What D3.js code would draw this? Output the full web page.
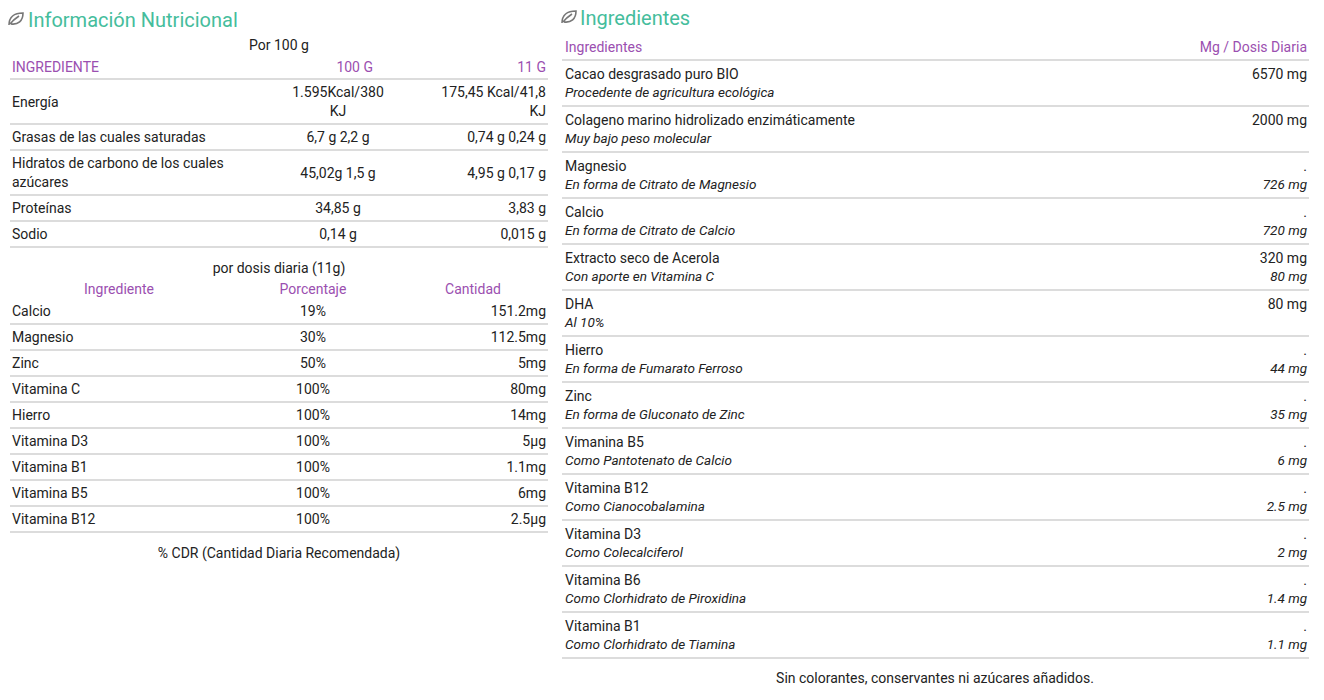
<!DOCTYPE html><html><head><meta charset="utf-8"><script src="https://cdn.jsdelivr.net/npm/d3@7"></script>
<style>body{margin:0;background:#fff}svg{font-family:Roboto,sans-serif}</style></head><body><svg id="c" width="1324" height="700"></svg>
<script>
const nutriNames=["Energía","Grasas de las cuales saturadas","Hidratos de carbono de los cuales|azúcares","Proteínas","Sodio"];
const nutri100=["1.595Kcal/380|KJ","6,7 g 2,2 g","45,02g 1,5 g","34,85 g","0,14  g"];
const nutri11=["175,45 Kcal/41,8|KJ","0,74  g 0,24  g","4,95 g 0,17 g","3,83  g","0,015 g"];
const doseNames=["Calcio","Magnesio","Zinc","Vitamina C","Hierro","Vitamina D3","Vitamina B1","Vitamina B5","Vitamina B12"];
const dosePct=["19%","30%","50%","100%","100%","100%","100%","100%","100%"];
const doseAmt=["151.2mg","112.5mg","5mg","80mg","14mg","5µg","1.1mg","6mg","2.5µg"];
const ingNames=["Cacao desgrasado puro BIO","Colageno marino hidrolizado enzimáticamente","Magnesio","Calcio","Extracto seco de Acerola","DHA","Hierro","Zinc","Vimanina B5","Vitamina B12","Vitamina D3","Vitamina B6","Vitamina B1"];
const ingSubs=["Procedente de agricultura ecológica","Muy bajo peso molecular","En forma de Citrato de Magnesio","En forma de Citrato de Calcio"," Con aporte en Vitamina C","Al 10%","En forma de Fumarato Ferroso","En forma de Gluconato de Zinc","Como Pantotenato de Calcio","Como Cianocobalamina","Como Colecalciferol","Como Clorhidrato de Piroxidina","Como Clorhidrato de Tiamina"];
const ingMg=["6570 mg","2000 mg",".",".","320 mg","80 mg",".",".",".",".",".",".","."];
const ingSubMg=["","","726 mg","720 mg","80 mg","","44 mg","35 mg","6 mg","2.5 mg","2 mg","1.4 mg","1.1 mg"];
const svg=d3.select("#c");
const TEAL="#45bd9c",PUR="#9b4fb0",TXT="#222",LINE="#d0d0d0";
function t(x,y,s,o={}){return svg.append("text").attr("x",x).attr("y",y).text(s).attr("font-size",o.fs||14).attr("fill",o.c||TXT).attr("text-anchor",o.a||"start").attr("font-style",o.i?"italic":null);}
function hl(x1,x2,y){svg.append("line").attr("x1",x1).attr("x2",x2).attr("y1",y).attr("y2",y).attr("stroke",LINE).attr("stroke-width",1.3);}
function leaf(x,y){svg.append("path").attr("transform",`translate(${x},${y})`).attr("d","M1,13 C1,5 6,1 15,1 C15,9 10,13 3,12 M2,12 C5,8 8,6 11,4").attr("fill","none").attr("stroke","#777").attr("stroke-width",1.6);}
// Left
leaf(8,12);t(28,27,"Información Nutricional",{fs:20,c:TEAL});
t(279,50,"Por 100 g",{a:"middle"});
t(12,72,"INGREDIENTE",{c:PUR});t(373,72,"100 G",{c:PUR,a:"end"});t(546,72,"11 G",{c:PUR,a:"end"});
hl(10,548,79);
const rh=nutriNames.map(n=>n.includes("|")||nutri100[nutriNames.indexOf(n)].includes("|")?45:26);
let y=79;
nutriNames.forEach((n,i)=>{const h=rh[i],mid=y+h/2+5;
 const put=(s,x,a)=>{const p=s.split("|");p.forEach((q,k)=>t(x,mid+(k-(p.length-1)/2)*19,q,{a}));};
 put(n,12,"start");put(nutri100[i],338,"middle");put(nutri11[i],546,"end");
 y+=h;hl(10,548,y);});
t(279,273,"por dosis diaria (11g)",{a:"middle"});
t(119,294,"Ingrediente",{c:PUR,a:"middle"});t(313,294,"Porcentaje",{c:PUR,a:"middle"});t(473,294,"Cantidad",{c:PUR,a:"middle"});
const yd=d3.scaleBand().domain(d3.range(doseNames.length)).range([298,532]);
doseNames.forEach((n,i)=>{const b=yd(i)+18;t(12,b,n);t(313,b,dosePct[i],{a:"middle"});t(546,b,doseAmt[i],{a:"end"});hl(10,548,yd(i)+yd.bandwidth());});
t(279,558,"% CDR (Cantidad Diaria Recomendada)",{a:"middle"});
// Right
leaf(561,10);t(580,25,"Ingredientes",{fs:20,c:TEAL});
t(565,52,"Ingredientes",{c:PUR});t(1307,52,"Mg / Dosis Diaria",{c:PUR,a:"end"});
hl(562,1309,60);
const yi=d3.scaleBand().domain(d3.range(ingNames.length)).range([60,658]);
ingNames.forEach((n,i)=>{const b=yi(i);t(565,b+19,n);t(1307,b+19,ingMg[i],{a:"end"});
 t(565,b+37,ingSubs[i],{i:1,fs:13.5});if(ingSubMg[i])t(1307,b+37,ingSubMg[i],{i:1,fs:13.5,a:"end"});
 hl(562,1309,b+yi.bandwidth());});
t(935,683,"Sin colorantes, conservantes ni azúcares añadidos.",{a:"middle"});
</script></body></html>
